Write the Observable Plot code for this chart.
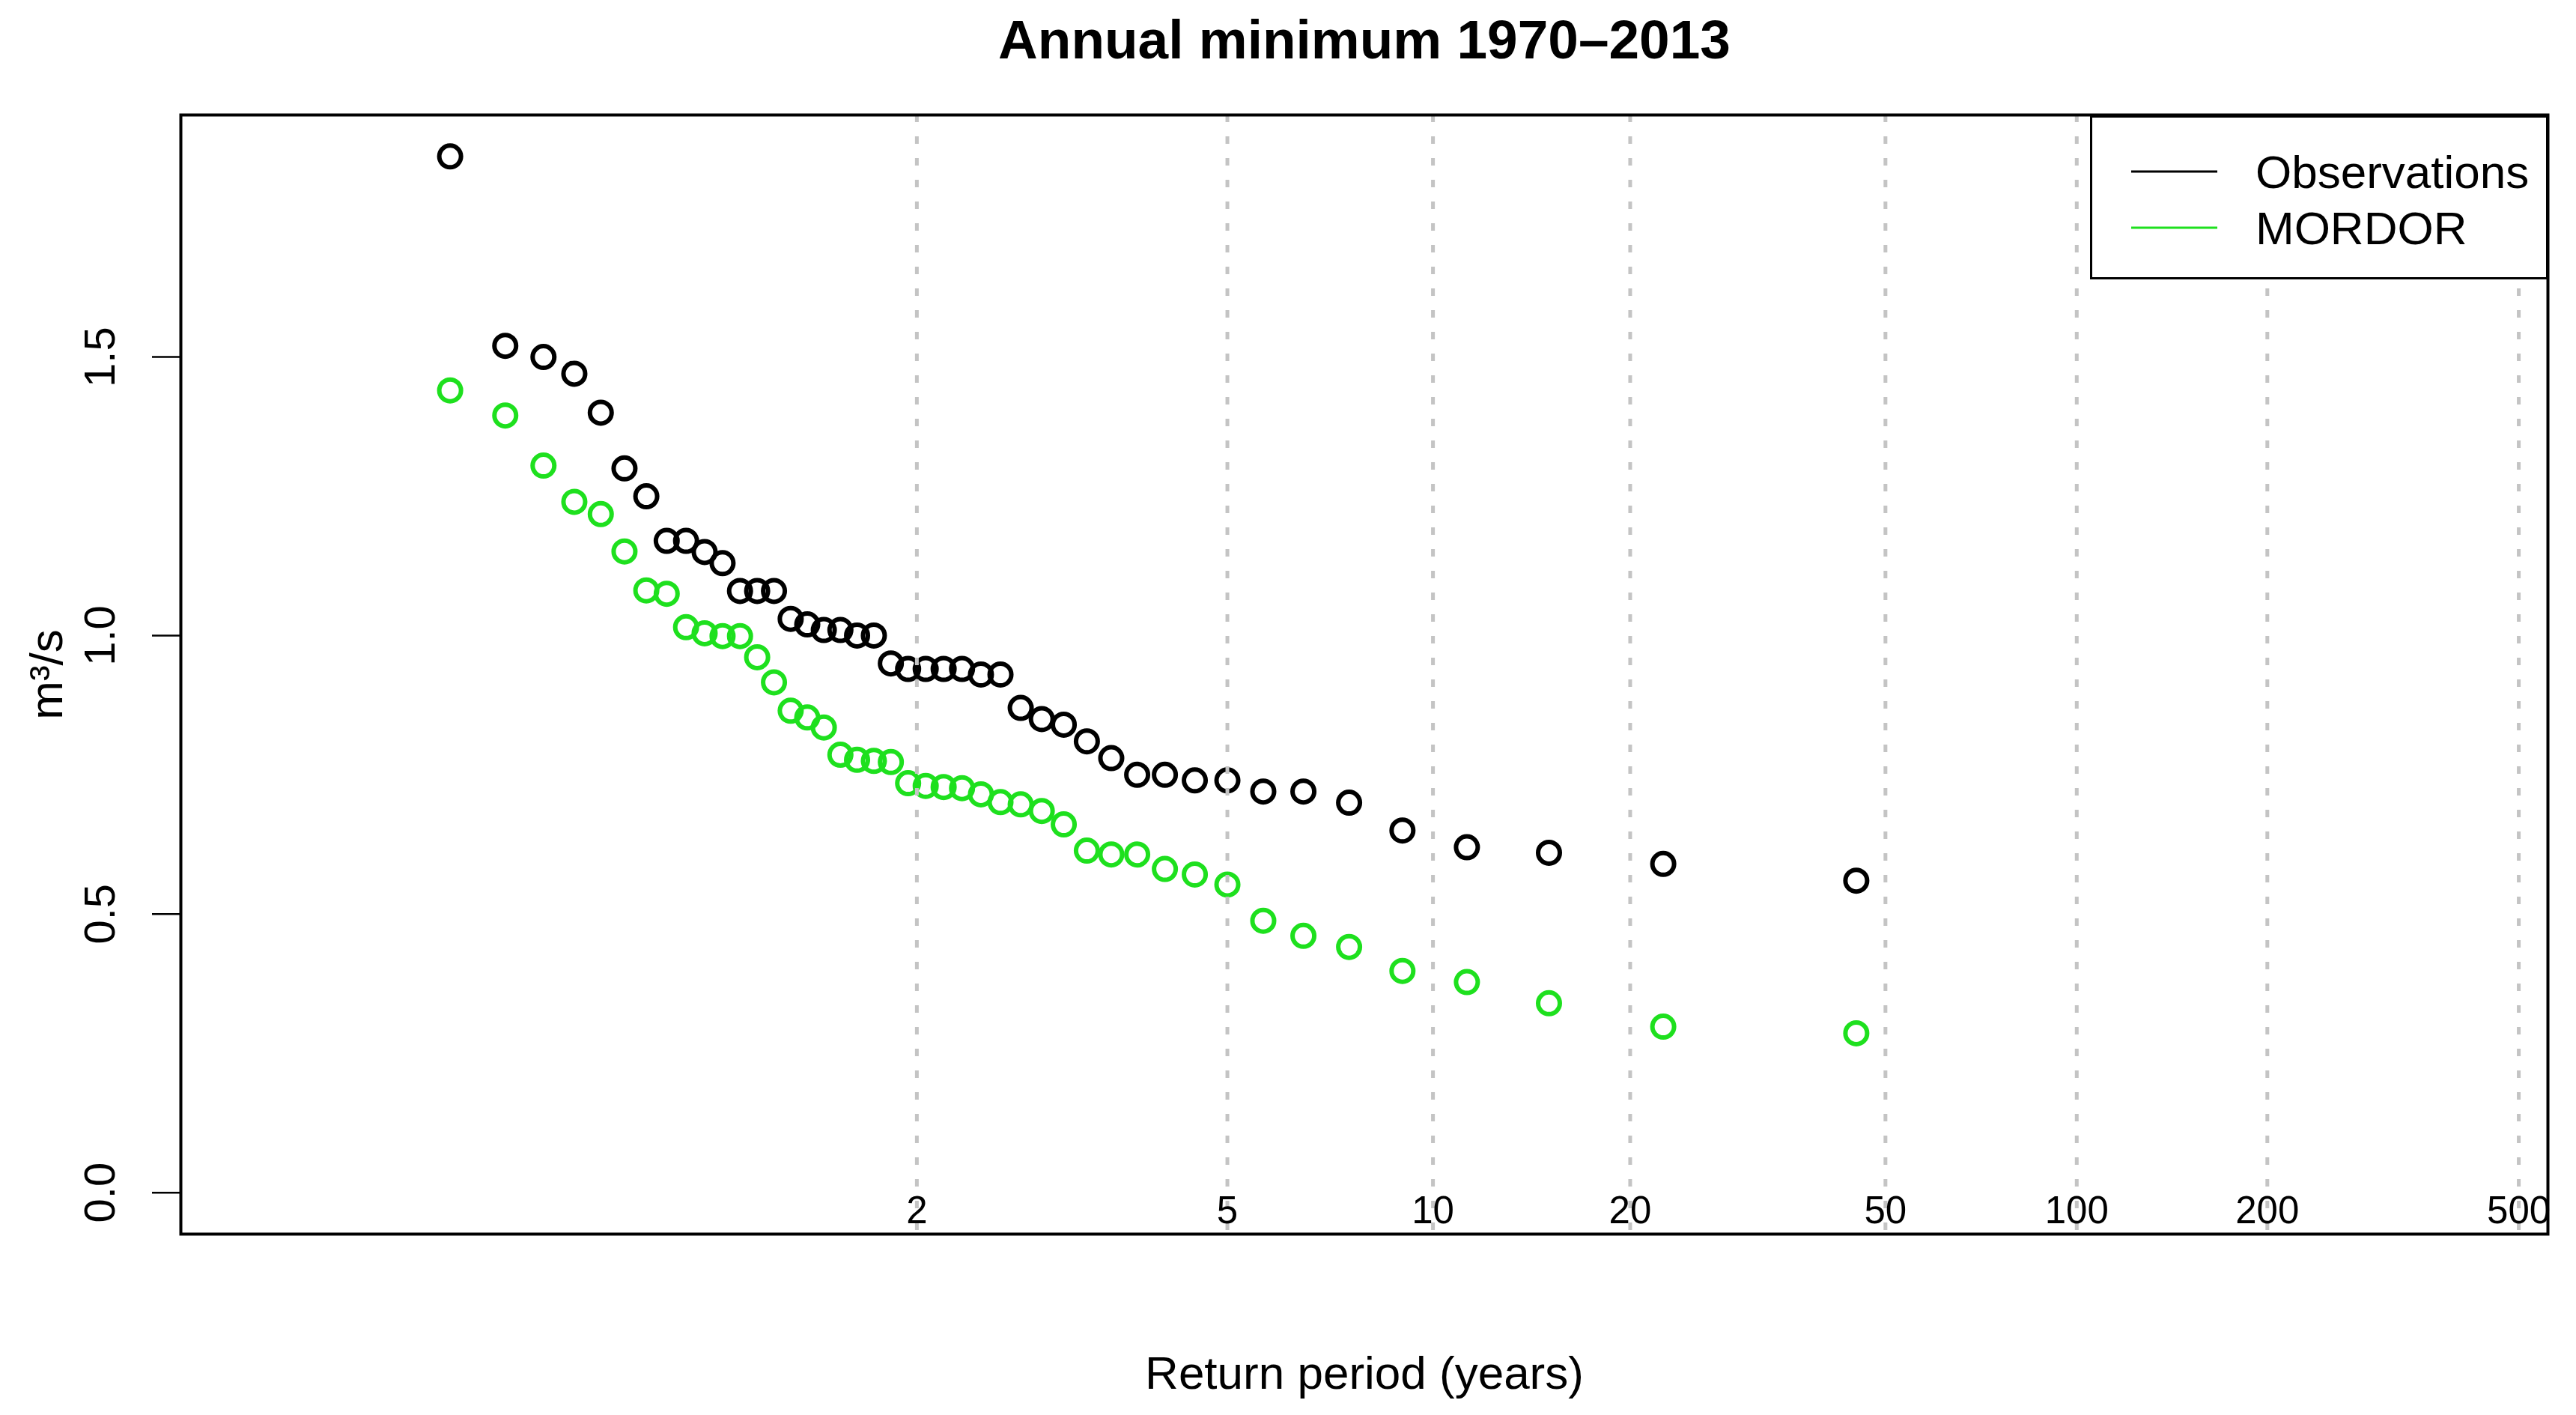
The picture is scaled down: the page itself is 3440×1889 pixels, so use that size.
<!DOCTYPE html>
<html>
<head>
<meta charset="utf-8">
<script src="https://cdn.jsdelivr.net/npm/d3@7"></script>
<script src="https://cdn.jsdelivr.net/npm/@observablehq/plot@0.6"></script>
<style>
  html, body { margin: 0; padding: 0; background: #fff; overflow: hidden; }
  #wrap { position: relative; width: 3440px; height: 1889px; }
  #legend { position: absolute; left: 2791px; top: 154px; width: 612px; height: 219px;
            border: 3.5px solid #000; box-sizing: border-box; background: #fff; }
  #legend svg { position: absolute; left: 0; top: 0; }
</style>
</head>
<body>
<div id="wrap"></div>
<script>
// Return periods (years) of the plotted points
const returnPeriod = [1.0227, 1.0465, 1.0714, 1.0976, 1.125, 1.1538, 1.1842, 1.2162, 1.25, 1.2857,
  1.3235, 1.3636, 1.4063, 1.4516, 1.5, 1.5517, 1.6071, 1.6667, 1.7308, 1.8,
  1.875, 1.9565, 2.0455, 2.1429, 2.25, 2.3684, 2.5, 2.6471, 2.8125, 3.0,
  3.2143, 3.4615, 3.75, 4.0909, 4.5, 5.0, 5.625, 6.4286, 7.5, 9.0,
  11.25, 15.0, 22.5, 45.0];
// Observed annual minima (m³/s)
const observations = [1.86, 1.52, 1.50, 1.47, 1.40, 1.30, 1.25, 1.17, 1.17, 1.15,
  1.13, 1.08, 1.08, 1.08, 1.03, 1.02, 1.01, 1.01, 1.00, 1.00,
  0.95, 0.94, 0.94, 0.94, 0.94, 0.93, 0.93, 0.87, 0.85, 0.84,
  0.81, 0.78, 0.75, 0.75, 0.74, 0.74, 0.72, 0.72, 0.70, 0.65,
  0.62, 0.61, 0.59, 0.56];
// MORDOR simulated annual minima (m³/s)
const mordor = [1.44, 1.395, 1.305, 1.24, 1.218, 1.151, 1.081, 1.075, 1.015, 1.004,
  0.999, 0.999, 0.961, 0.916, 0.865, 0.853, 0.835, 0.786, 0.777, 0.775,
  0.773, 0.735, 0.730, 0.728, 0.726, 0.715, 0.701, 0.697, 0.685, 0.661,
  0.614, 0.607, 0.607, 0.581, 0.571, 0.553, 0.488, 0.461, 0.441, 0.398,
  0.378, 0.340, 0.298, 0.286];
const returnTicks = [2, 5, 10, 20, 50, 100, 200, 500];
const yTicks = [0, 0.5, 1.0, 1.5];
const seriesNames = ["Observations", "MORDOR"];
const seriesColors = ["#000000", "#1ee01e"];

// Gumbel reduced variate: the chart's x scale
const gumbel = T => -Math.log(-Math.log(1 - 1 / T));

const rows = returnPeriod.map((T, i) => ({T, u: gumbel(T), obs: observations[i], mordor: mordor[i]}));

const FONT = "'Liberation Sans', Arial, sans-serif";

const chart = Plot.plot({
  width: 3440,
  height: 1889,
  marginLeft: 241,
  marginRight: 38,
  marginTop: 153,
  marginBottom: 242,
  style: {fontFamily: FONT, background: "#fff", color: "#000", overflow: "visible"},
  x: {type: "linear", domain: [-2.32, 6.32], axis: null},
  y: {type: "linear", domain: [-0.0744, 1.9344], axis: null},
  marks: [
    Plot.dot(rows, {x: "u", y: "mordor", r: 14.5, stroke: seriesColors[1], strokeWidth: 6, fill: "none"}),
    Plot.dot(rows, {x: "u", y: "obs", r: 14.5, stroke: seriesColors[0], strokeWidth: 6, fill: "none"}),
    Plot.ruleX(returnTicks, {x: d => gumbel(d), stroke: "#c4c4c4", strokeWidth: 5, strokeDasharray: "10,19"}),
    Plot.text(returnTicks, {x: d => gumbel(d), text: d => String(d), frameAnchor: "bottom", dy: -31,
      fontSize: 51, lineAnchor: "middle", fill: "#000", fontFamily: FONT}),
    Plot.axisY({ticks: yTicks, tickSize: 38, tickFormat: () => "", strokeWidth: 2.5, stroke: "#000"}),
    Plot.text(yTicks, {y: d => d, text: d => d.toFixed(1), frameAnchor: "left", dx: -107, rotate: -90,
      fontSize: 58, textAnchor: "middle", lineAnchor: "middle", fill: "#000", fontFamily: FONT}),
    Plot.frame({stroke: "#000", strokeWidth: 4}),
    Plot.text(["Annual minimum 1970–2013"], {text: d => d, frameAnchor: "top", dy: -99, fontSize: 73,
      fontWeight: "bold", lineAnchor: "middle", fill: "#000", fontFamily: FONT}),
    Plot.text(["Return period (years)"], {text: d => d, frameAnchor: "bottom", dy: 187, fontSize: 62,
      lineAnchor: "middle", fill: "#000", fontFamily: FONT}),
    Plot.text(["m³/s"], {text: d => d, frameAnchor: "left", dx: -178, rotate: -90, fontSize: 62,
      textAnchor: "middle", lineAnchor: "middle", fill: "#000", fontFamily: FONT})
  ]
});

const wrap = document.getElementById("wrap");
wrap.appendChild(chart);

// Legend (top right, inside the frame)
const legend = document.createElement("div");
legend.id = "legend";
const ns = "http://www.w3.org/2000/svg";
const lsvg = document.createElementNS(ns, "svg");
lsvg.setAttribute("width", 612);
lsvg.setAttribute("height", 219);
seriesNames.forEach((name, i) => {
  const cy = 72 + i * 75;
  const line = document.createElementNS(ns, "line");
  line.setAttribute("x1", 52); line.setAttribute("x2", 167);
  line.setAttribute("y1", cy); line.setAttribute("y2", cy);
  line.setAttribute("stroke", seriesColors[i]); line.setAttribute("stroke-width", 3);
  lsvg.appendChild(line);
  const t = document.createElementNS(ns, "text");
  t.setAttribute("x", 218); t.setAttribute("y", cy);
  t.setAttribute("dy", "0.35em");
  t.setAttribute("font-family", FONT);
  t.setAttribute("font-size", 62);
  t.setAttribute("fill", "#000");
  t.textContent = name;
  lsvg.appendChild(t);
});
legend.appendChild(lsvg);
wrap.appendChild(legend);
</script>
</body>
</html>
